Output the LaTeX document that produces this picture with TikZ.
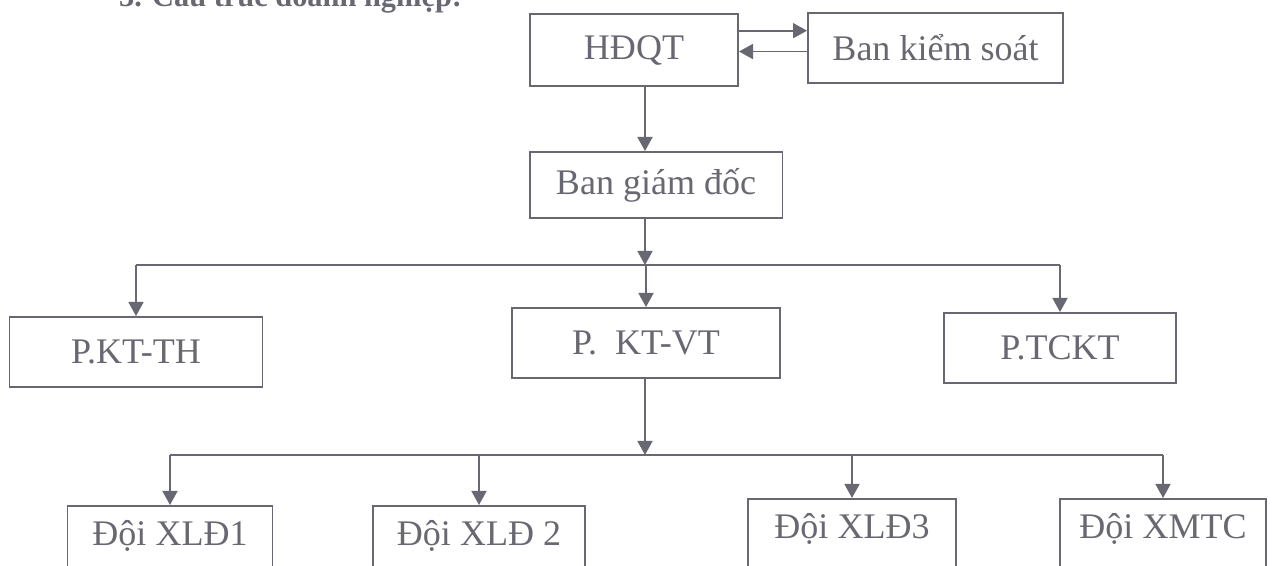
\documentclass[tikz,border=0pt]{standalone}
\usepackage{fontspec}
\setmainfont{Liberation Serif}
\usepackage{tikz}
\usetikzlibrary{arrows.meta}
\definecolor{inkgray}{RGB}{104,104,114}

\begin{document}
\begin{tikzpicture}[x=0.02cm,y=-0.02cm,
  unit/.style={draw=inkgray,text=inkgray,line width=1.1pt,inner sep=0pt,font=\fontsize{20.5}{24}\selectfont},
  team/.style={unit,anchor=north,text height=0.8cm,text depth=1.6cm},
  link/.style={draw=inkgray,line width=1.1pt},
  flow/.style={link,-{Triangle[length=8pt,width=8.5pt]}}]
  \useasboundingbox (0,0) rectangle (1273,565);
  \clip (0,0) rectangle (1273,565);

  \node at (113,6) [anchor=base west,text=inkgray,font=\bfseries\fontsize{17.3}{20}\selectfont] (title) {
    3. Cấu trúc doanh nghiệp:
  };

  % top level
  \node at (634,50) [unit,minimum width=4.16cm,minimum height=1.44cm] (hdqt) {
    HĐQT
  };
  \node at (935.5,48) [unit,minimum width=5.1cm,minimum height=1.4cm] (bks) {
    Ban kiểm soát
  };
  \node at (656,185) [unit,minimum width=5.06cm,minimum height=1.32cm] (bgd) {
    Ban giám đốc
  };

  % departments
  \node at (136,352) [unit,minimum width=5.06cm,minimum height=1.4cm] (kth) {
    P.KT-TH
  };
  \node at (646,343) [unit,minimum width=5.36cm,minimum height=1.4cm] (ktvt) {
    P.\ \ KT-VT
  };
  \node at (1060,348) [unit,minimum width=4.64cm,minimum height=1.4cm] (tckt) {
    P.TCKT
  };

  % teams
  \node at (170,505) [team,minimum width=4.1cm] (doi1) {Đội XLĐ1};
  \node at (479,505) [team,minimum width=4.24cm] (doi2) {Đội XLĐ 2};
  \node at (852,498) [team,minimum width=4.16cm] (doi3) {Đội XLĐ3};
  \node at (1163,498) [team,minimum width=4.12cm] (doi4) {Đội XMTC};

  \coordinate (busA) at (645,265);
  \coordinate (busB) at (645,455);

  \path[flow] ([yshift=11pt]hdqt.east) -- ([yshift=11pt]hdqt.east -| bks.west);
  \path[flow] ([yshift=-2pt]bks.west) -- ([yshift=-2pt]bks.west -| hdqt.east);

  \path[flow] (hdqt.south -| busA) -- (bgd.north -| busA);
  \path[flow] (bgd.south -| busA) -- (busA);
  \path[link] (busA -| kth.north) -- (busA -| tckt.north);
  \foreach \d in {kth,ktvt,tckt}
    \path[flow] (busA -| \d.north) -- (\d.north);

  \path[flow] (ktvt.south -| busB) -- (busB);
  \path[link] (busB -| doi1.north) -- (busB -| doi4.north);
  \foreach \d in {doi1,doi2,doi3,doi4}
    \path[flow] (busB -| \d.north) -- (\d.north);
\end{tikzpicture}
\end{document}
